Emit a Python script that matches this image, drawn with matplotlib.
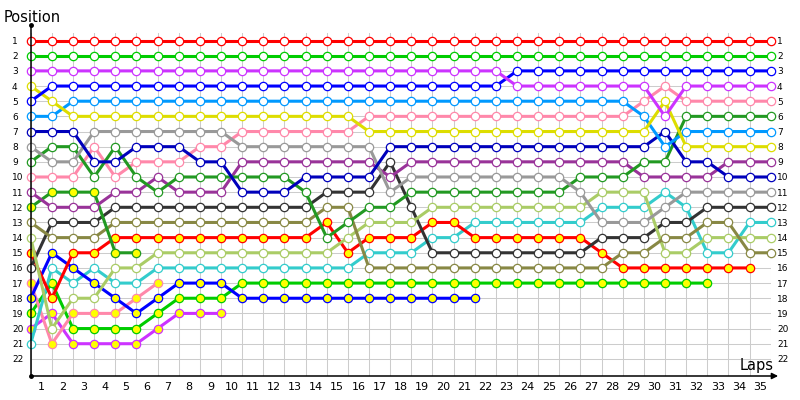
import matplotlib
matplotlib.use("Agg")
import matplotlib.pyplot as plt
import numpy as np

# Позиции по кругам (круг 0 = стартовая решётка)
red_w = [1] * 36
green_w = [2] * 36
violet_w = [3] * 23 + [4] * 7 + [6] + [4] * 5
blue_w = [5] + [4] * 22 + [3] * 13
yellow_w = [4, 5] + [6] * 14 + [7] * 14 + [5] + [8] * 5
azure_w = [6, 6] + [5] * 27 + [6, 8] + [7] * 5
dblue_w = [7, 7, 7, 9, 9, 8, 8, 8, 9, 9, 11, 11, 11] + [10] * 4 + [8] * 13 + [7, 9, 9, 10, 10, 10]
gray_w = [8, 9, 9, 7, 7, 7, 7, 7, 7, 7] + [8] * 7 + [11] + [10] * 8 + [11] + [13] * 3 + [12] + [11] * 5
dgreen_w = [9, 8, 8, 10, 8, 10, 11, 10, 10, 10, 10, 10, 10, 11, 14, 13, 12, 12] + [11] * 8 + [10] * 3 + [9, 9] + [6] * 5
pink_w = [10, 10, 10, 8, 10, 9, 9, 9, 8, 8] + [7] * 6 + [6] * 13 + [5, 4] + [5] * 5
dpurple_w = [11, 12, 12, 12, 11, 11, 10, 11, 11, 11] + [9] * 7 + [10] + [9] * 11 + [10] * 4 + [9] * 3
dgreen_y = [12, 11, 11, 11, 15, 15]
olive_w = [13, 14, 14, 14] + [13] * 10 + [12, 12] + [16] * 12 + [15, 15, 14, 14, 13, 13, 15, 15]
lgreen_w = [14, 20, 18, 18, 16, 16] + [15] * 9 + [14, 13, 13, 13] + [12] * 8 + [11] * 3 + [15, 15] + [14] * 4
dgray_w = [16, 13, 13, 13] + [12] * 10 + [11] * 3 + [9, 12] + [15] * 8 + [14] * 3 + [13, 13] + [12] * 4
red_y = [15, 18, 15, 15] + [14] * 10 + [13, 15, 14, 14, 14, 13, 13] + [14] * 6 + [15] + [16] * 7
blue_y = [18, 15, 16, 17, 18, 19, 18, 17, 17, 17, 18, 18] + [18] * 10
cyan_w = [21, 16, 17, 16, 17, 17] + [16] * 10 + [15] * 3 + [14, 14] + [13] * 6 + [12] * 3 + [11, 12, 15, 15, 13, 13]
pink_y = [17, 21, 19, 19, 19, 18, 17]
green_y = [19, 17, 20, 20, 20, 20, 19, 18, 18, 18] + [17] * 23
violet_y = [20, 19, 21, 21, 21, 21, 20, 19, 19, 19]

series = [
    (violet_y, "#cc33ff", "#ffff00"),
    (green_y, "#00cc00", "#ffff00"),
    (pink_y, "#ff88aa", "#ffff00"),
    (cyan_w, "#33cccc", "white"),
    (blue_y, "#0000ff", "#ffff00"),
    (red_y, "#ff0000", "#ffff00"),
    (dgray_w, "#333333", "white"),
    (lgreen_w, "#aacc66", "white"),
    (olive_w, "#888844", "white"),
    (dgreen_y, "#229922", "#ffff00"),
    (dpurple_w, "#993399", "white"),
    (pink_w, "#ff88aa", "white"),
    (dgreen_w, "#229922", "white"),
    (gray_w, "#999999", "white"),
    (dblue_w, "#0000bb", "white"),
    (azure_w, "#0099ff", "white"),
    (yellow_w, "#dddd00", "white"),
    (blue_w, "#0000ff", "white"),
    (violet_w, "#cc33ff", "white"),
    (green_w, "#00cc00", "white"),
    (red_w, "#ff0000", "white"),
]

lap_labels = [str(i) for i in range(1, 36)]
pos_labels = [str(i) for i in range(1, 23)]

fig = plt.figure(figsize=(8, 4), dpi=100)
ax = fig.add_axes([0.0384, 0.06, 0.925, 0.8575])

for vals, col, face in series:
    laps = np.arange(len(vals))
    ax.plot(laps, vals, color=col, lw=2.2, marker="o", ms=6,
            mfc=face, mec=col, mew=0.9, solid_joinstyle="round", clip_on=False)

ax.set_xlim(0, 35)
ax.set_ylim(23.13, 0.5)

# сетка
ax.set_xticks(range(36))
ax.set_xticklabels([])
ax.set_xticks(np.arange(0.5, 35), minor=True)
ax.set_xticklabels(lap_labels, minor=True, fontsize=8)
ax.tick_params(axis="x", which="both", length=0, pad=4)
ax.set_yticks(range(1, 23))
ax.set_yticklabels(pos_labels, fontsize=6.5)
ax.tick_params(axis="y", length=0, pad=13.5)
plt.setp(ax.get_yticklabels(), ha="left")
ax.grid(True, which="major", color="#cccccc", lw=0.75)
ax.set_axisbelow(True)

sec = ax.secondary_yaxis("right")
sec.set_yticks(range(1, 23))
sec.set_yticklabels(pos_labels, fontsize=6.5)
sec.tick_params(length=0, pad=4.5)
sec.spines["right"].set_visible(False)

for s in ax.spines.values():
    s.set_visible(False)

# оси со стрелкой и точками
ax.plot([0, 0], [0, 1.023], transform=ax.transAxes, color="black", lw=1.1, clip_on=False)
ax.plot([0, 0], [0, 1.023], "o", transform=ax.transAxes, color="black", ms=2.5, clip_on=False)
ax.annotate("", xy=(1.01, 0), xytext=(0, 0), xycoords="axes fraction",
            arrowprops=dict(arrowstyle="-|>", color="black", lw=1.1, mutation_scale=9,
                            shrinkA=0, shrinkB=0))

fig.text(0.004, 0.945, "Position", fontsize=10.5, ha="left", va="baseline")
fig.text(0.9675, 0.075, "Laps", fontsize=10.5, ha="right", va="baseline")

fig.savefig("out.png", dpi=100)
